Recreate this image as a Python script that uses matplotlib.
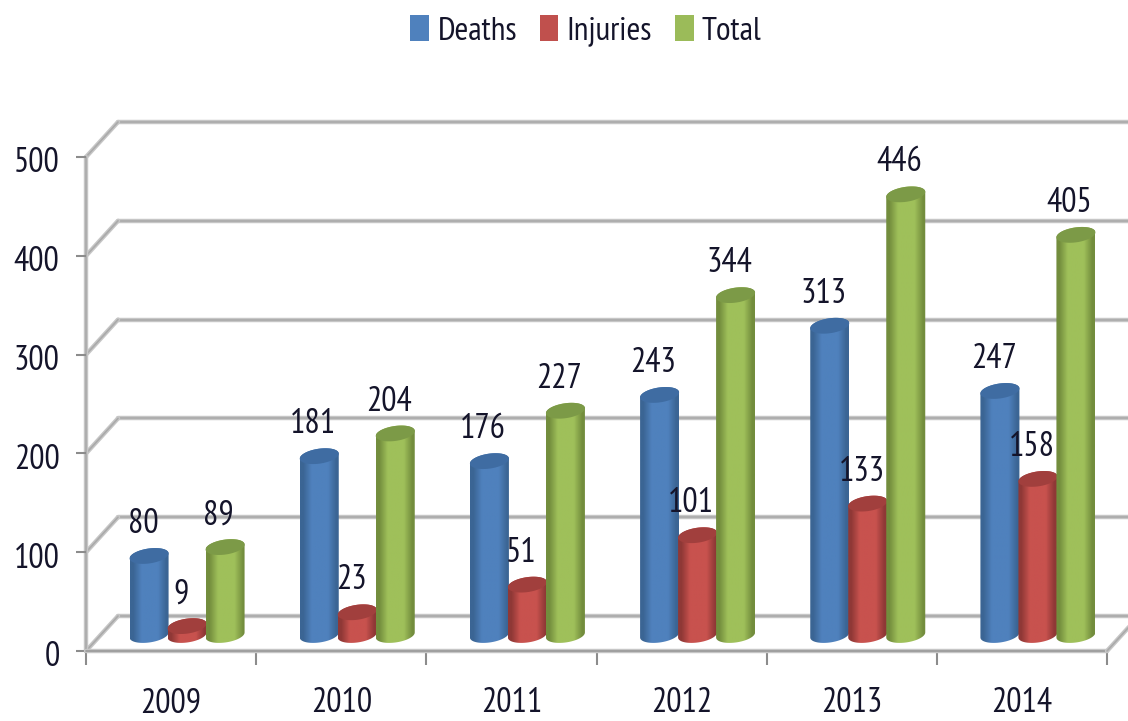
import numpy as np
import matplotlib
matplotlib.use('Agg')
import matplotlib.pyplot as plt
from matplotlib import font_manager
from matplotlib.colors import LinearSegmentedColormap
from matplotlib.path import Path
from matplotlib.patches import Polygon, Patch
from matplotlib.transforms import ScaledTranslation

years = ['2009', '2010', '2011', '2012', '2013', '2014']
deaths = [80, 181, 176, 243, 313, 247]
injuries = [9, 23, 51, 101, 133, 158]
total = [89, 204, 227, 344, 446, 405]
series_names = ['Deaths', 'Injuries', 'Total']
yticks = [0, 100, 200, 300, 400, 500]

# side colour, main colour, top cap colour
colors = [('#3b6594', '#4f81bd', '#3f6ca2'),
          ('#8f3836', '#c8524e', '#a13f3d'),
          ('#738d3d', '#9fc05a', '#7c9a47')]
legend_colors = ['#4f81bd', '#c0504d', '#9bbb59']

# the reference text is tall and narrow, take a narrow family if there is one
installed = set(f.name for f in font_manager.fontManager.ttflist)
for fam in ['PT Sans Narrow', 'Archivo Narrow', 'Roboto Condensed', 'Liberation Sans']:
    if fam in installed:
        plt.rcParams['font.family'] = [fam, 'DejaVu Sans']
        break

W, H = 1128, 721
fig = plt.figure(figsize=(W / 100, H / 100), dpi=100)
left, right, top, bottom = 86, 1107, 157, 651
ax = fig.add_axes([left / W, 1 - bottom / H, (right - left) / W, (bottom - top) / H])

# pixels to data units, the fake depth is done with these
px_x = 6.0 / (right - left)
px_y = 500.0 / (bottom - top)
depth_x = 32 * px_x
depth_y = 35 * px_y
base_x = 16 * px_x
base_y = 16 * px_y
half_w = 19.5 * px_x
half_h = 7.5 * px_y
tilt = 2.5 * px_y
spacing = 38 * px_x

text_col = '#14142a'


def grid_line(xs, ys, z=1, col='#c6c6c6', core='#aaaaaa'):
    ax.plot(xs, ys, color=col, lw=3.2, zorder=z, clip_on=False, solid_capstyle='round')
    ax.plot(xs, ys, color=core, lw=1.2, zorder=z, clip_on=False, solid_capstyle='round')


for t in yticks:
    grid_line([depth_x, 6.2], [t + depth_y, t + depth_y])
    grid_line([0, depth_x], [t, t + depth_y])
grid_line([0, 0], [0, 500])
grid_line([0, 6], [0, 0], z=2, core='#999999')
grid_line([6, 6 + depth_x], [0, depth_y], z=2)


def cylinder(xc, value, cols):
    ang = np.linspace(0, np.pi, 40)
    ex = np.cos(ang)
    ey = np.sin(ang)
    y0 = base_y
    y1 = base_y + value
    # outline: front of the base, then the back of the top
    xs = np.r_[xc - half_w * ex, xc + half_w * ex]
    ys = np.r_[y0 - half_h * ey - tilt * ex, y1 + half_h * ey + tilt * ex]
    cmap = LinearSegmentedColormap.from_list(
        'c', [(0, cols[0]), (0.08, cols[0]), (0.3, cols[1]), (0.72, cols[1]), (0.94, cols[0]), (1, cols[0])])
    grad = cmap(np.linspace(0, 1, 64))[np.newaxis, :, :]
    im = ax.imshow(grad, extent=[xc - half_w, xc + half_w, y0 - half_h - tilt, y1 + half_h + tilt],
                   aspect='auto', interpolation='bilinear', zorder=3)
    im.set_clip_path(Path(np.c_[xs, ys]), ax.transData)
    # top cap
    ang = np.linspace(0, 2 * np.pi, 80)
    cap = np.c_[xc + half_w * np.cos(ang), y1 + half_h * np.sin(ang) + tilt * np.cos(ang)]
    ax.add_patch(Polygon(cap, closed=True, facecolor=cols[2], edgecolor='none', zorder=3))


all_series = [deaths, injuries, total]
for i, year in enumerate(years):
    for k, values in enumerate(all_series):
        xc = i + 0.5 + base_x + (k - 1) * spacing
        cylinder(xc, values[i], colors[k])
        ax.annotate(str(values[i]), (xc, base_y + values[i]), xytext=(-4.5, 23),
                    textcoords='offset points', ha='center', va='center',
                    fontsize=24.5, color=text_col, zorder=5, annotation_clip=False)

ax.set_xlim(0, 6)
ax.set_ylim(0, 500)
ax.patch.set_visible(False)
for s in ax.spines.values():
    s.set_visible(False)

ax.set_xticks(range(7))
ax.set_xticklabels([])
ax.set_xticks(np.arange(6) + 0.5, minor=True)
ax.set_xticklabels(years, minor=True, fontsize=24.5, color=text_col)
ax.tick_params(axis='x', which='major', length=10, width=1.5, color='#8c8c8c')
ax.tick_params(axis='x', which='minor', length=0, pad=26)
ax.set_yticks(yticks)
ax.set_yticklabels([str(t) for t in yticks], fontsize=24.5, color=text_col)
ax.tick_params(axis='y', length=7, width=1.5, color='#8c8c8c', pad=12)
# y labels sit a little under their ticks
shift = ScaledTranslation(0, -3 / 100, fig.dpi_scale_trans)
for lab in ax.get_yticklabels():
    lab.set_transform(lab.get_transform() + shift)

handles = [Patch(facecolor=legend_colors[k], edgecolor='none', label=series_names[k]) for k in range(3)]
fig.legend(handles=handles, ncol=3, loc='center', bbox_to_anchor=(586 / W, 1 - 31 / H), frameon=False,
           fontsize=24, labelcolor=text_col, handlelength=0.56, handleheight=0.82,
           handletextpad=0.25, columnspacing=0.68)

fig.savefig('out.png', dpi=100)
